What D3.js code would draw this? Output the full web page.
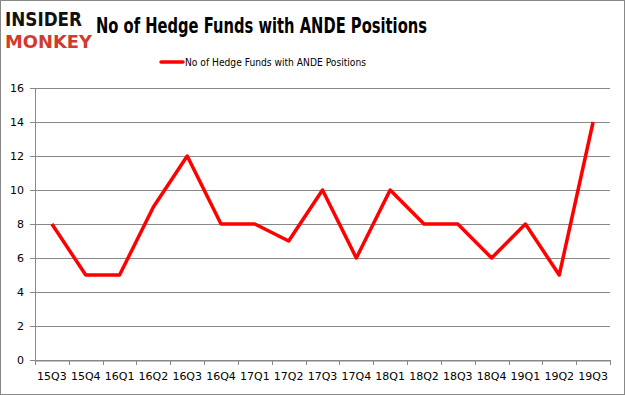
<!DOCTYPE html>
<html>
<head>
<meta charset="utf-8">
<script src="https://cdn.jsdelivr.net/npm/d3@7"></script>
<style>
  body { margin: 0; background: #fff; }
  svg text { font-family: "DejaVu Sans", Verdana, sans-serif; }
</style>
</head>
<body>
<div id="chart"></div>
<script>
// data
var quarters = ["15Q3","15Q4","16Q1","16Q2","16Q3","16Q4","17Q1","17Q2","17Q3","17Q4",
                "18Q1","18Q2","18Q3","18Q4","19Q1","19Q2","19Q3"];
var funds = [8, 5, 5, 9, 12, 8, 8, 7, 10, 6, 10, 8, 8, 6, 8, 5, 14];
var yTicks = [0, 2, 4, 6, 8, 10, 12, 14, 16];
var seriesName = "No of Hedge Funds with ANDE Positions";

let svgWidth = 625;
let svgHeight = 395;
let margin = {top: 88, right: 15, bottom: 35, left: 35};
let width = svgWidth - margin.left - margin.right;
let height = svgHeight - margin.top - margin.bottom;

let svg = d3.select("#chart")
  .append("svg")
  .attr("width", svgWidth)
  .attr("height", svgHeight);

// outer border
svg.append("rect")
  .attr("x", 0.5).attr("y", 0.5)
  .attr("width", svgWidth - 1).attr("height", svgHeight - 1)
  .attr("fill", "#fff")
  .attr("stroke", "#888")
  .attr("stroke-width", 1);

// logo
svg.append("text")
  .attr("x", 5).attr("y", 26)
  .attr("font-family", "'DejaVu Sans', sans-serif")
  .attr("font-weight", "bold")
  .attr("font-size", 20)
  .attr("textLength", 77)
  .attr("lengthAdjust", "spacingAndGlyphs")
  .attr("fill", "#111")
  .text("INSIDER");
svg.append("text")
  .attr("x", 5).attr("y", 48)
  .attr("font-family", "'DejaVu Sans', sans-serif")
  .attr("font-weight", "bold")
  .attr("font-size", 18)
  .attr("textLength", 87)
  .attr("lengthAdjust", "spacingAndGlyphs")
  .attr("fill", "#d13b2c")
  .text("MONKEY");

// title
svg.append("text")
  .attr("x", 96).attr("y", 33)
  .attr("font-family", "'Open Sans', 'Liberation Sans', sans-serif")
  .attr("font-weight", "bold")
  .attr("font-size", 22)
  .attr("textLength", 331)
  .attr("lengthAdjust", "spacingAndGlyphs")
  .attr("fill", "#000")
  .text("No of Hedge Funds with ANDE Positions");

// legend
svg.append("line")
  .attr("x1", 161).attr("x2", 183)
  .attr("y1", 62).attr("y2", 62)
  .attr("stroke", "#ff0000")
  .attr("stroke-width", 3.5)
  .attr("stroke-linecap", "round");
svg.append("text")
  .attr("x", 185).attr("y", 66)
  .attr("font-size", 11)
  .attr("textLength", 181)
  .attr("lengthAdjust", "spacingAndGlyphs")
  .attr("fill", "#000")
  .text(seriesName);

let chartGroup = svg.append("g")
  .attr("transform", `translate(${margin.left}, ${margin.top})`);

let xScale = d3.scaleBand()
  .domain(quarters)
  .range([0, width]);

let yScale = d3.scaleLinear()
  .domain([0, 16])
  .range([height, 0]);

// gridlines
chartGroup.append("g")
  .selectAll("line")
  .data(yTicks)
  .enter()
  .append("line")
  .attr("x1", -5).attr("x2", width)
  .attr("y1", d => Math.round(yScale(d)) + 0.5)
  .attr("y2", d => Math.round(yScale(d)) + 0.5)
  .attr("stroke", "#888")
  .attr("stroke-width", 1);

// y labels
chartGroup.append("g")
  .selectAll("text")
  .data(yTicks)
  .enter()
  .append("text")
  .attr("x", -11)
  .attr("y", d => yScale(d) + 4)
  .attr("text-anchor", "end")
  .attr("font-size", 11)
  .attr("fill", "#000")
  .text(d => d);

// y axis line
chartGroup.append("line")
  .attr("x1", 0.5).attr("x2", 0.5)
  .attr("y1", 0).attr("y2", height)
  .attr("stroke", "#888");

// x axis with ticks at category edges
let bottomAxis = d3.axisBottom(xScale).tickSize(0).tickPadding(12);
let xAxisG = chartGroup.append("g")
  .attr("transform", `translate(0, ${Math.round(height) + 0.5})`)
  .call(bottomAxis);
xAxisG.select(".domain").attr("stroke", "#888");
xAxisG.selectAll("text")
  .attr("font-size", 11)
  .attr("font-family", "'DejaVu Sans', Verdana, sans-serif")
  .attr("fill", "#000");

let edges = quarters.map(q => xScale(q)).concat([width]);
chartGroup.append("g")
  .selectAll("line")
  .data(edges)
  .enter()
  .append("line")
  .attr("x1", d => Math.round(d) + 0.5)
  .attr("x2", d => Math.round(d) + 0.5)
  .attr("y1", height)
  .attr("y2", height + 5)
  .attr("stroke", "#888");

// line
let line = d3.line()
  .x((d, i) => xScale(quarters[i]) + xScale.bandwidth() / 2)
  .y(d => yScale(d));

chartGroup.append("path")
  .datum(funds)
  .attr("d", line)
  .attr("fill", "none")
  .attr("stroke", "#ff0000")
  .attr("stroke-width", 3.5)
  .attr("stroke-linejoin", "round");
</script>
</body>
</html>
